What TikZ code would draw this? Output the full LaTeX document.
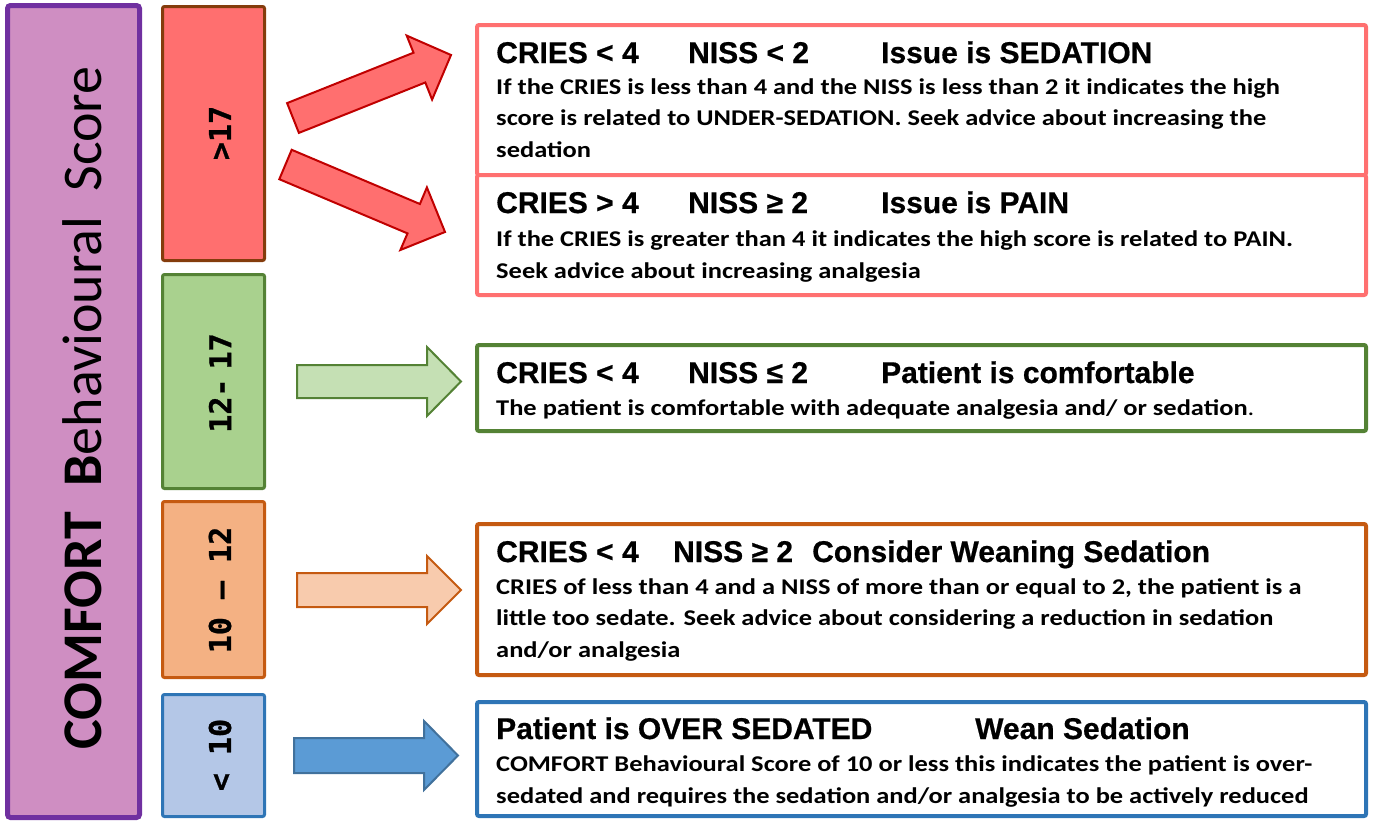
\documentclass[tikz,border=0pt]{standalone}
\usepackage{fontspec}
\setmainfont{Carlito}
\newfontfamily\bodyfont{Carlito}[FakeStretch=1.175]
\newfontfamily\hfont{Liberation Sans}[BoldFeatures={FakeBold=0.6}]
\newfontfamily\mfont{DejaVu Sans Mono}[BoldFeatures={FakeBold=0.8}]
\definecolor{purF}{HTML}{CF8EC2}
\definecolor{purD}{HTML}{7030A0}
\definecolor{redF}{HTML}{FF6F6F}
\definecolor{redD}{HTML}{843C0C}
\definecolor{redA}{HTML}{C00000}
\definecolor{redB}{HTML}{FF7070}
\definecolor{grnF}{HTML}{A9D18E}
\definecolor{grnL}{HTML}{C5E0B4}
\definecolor{grnD}{HTML}{548235}
\definecolor{orgF}{HTML}{F4B183}
\definecolor{orgL}{HTML}{F8CBAD}
\definecolor{orgD}{HTML}{C55A11}
\definecolor{bluF}{HTML}{B4C7E7}
\definecolor{bluA}{HTML}{5B9BD5}
\definecolor{bluE}{HTML}{41719C}
\definecolor{bluD}{HTML}{2E75B6}
\begin{document}
\begin{tikzpicture}[x=1pt,y=-1pt,
  scorebox/.style={draw, line width=3pt, rounded corners=2pt, inner sep=0pt, minimum width=102pt},
  infobox/.style={draw, line width=4pt, fill=white, rounded corners=2pt, inner sep=0pt, minimum width=889pt},
  scorelabel/.style={rotate=90, font=\mfont\bfseries\fontsize{30}{30}\selectfont, inner sep=0pt},
  head/.style={anchor=base west, inner sep=0pt, font=\hfont\bfseries\fontsize{30}{32}\selectfont},
  body/.style={anchor=base west, inner sep=0pt, align=left, font=\bodyfont\bfseries\fontsize{22.5}{31.5}\selectfont},
  blockarrow/.style={line width=2pt, line join=miter}
]
\useasboundingbox (0,0) rectangle (1378,822);
% main vertical box
\node[draw=purD, fill=purF, line width=5pt, rounded corners=3pt, inner sep=0pt,
  minimum width=132pt, minimum height=812pt] (main) at (73.5,411.5) {};
\node[rotate=90, inner sep=0pt, font=\fontsize{56}{56}\selectfont] (mainlbl) at (82,408)
  {{\bfseries COMFORT\ \ B}ehavioural\ \ Score};
% score boxes
\node[scorebox, draw=redD, fill=redF, minimum height=254pt] (s1) at (213.5,133.5) {};
\node[scorebox, draw=grnD, fill=grnF, minimum height=214pt] (s2) at (213.5,381.5) {};
\node[scorebox, draw=orgD, fill=orgF, minimum height=176pt] (s3) at (213.5,589.5) {};
\node[scorebox, draw=bluD, fill=bluF, minimum height=122pt] (s4) at (213.5,755.5) {};
\node[scorelabel] (l1) at (220,133) {>17};
\node[scorelabel] (l2) at (220,383) {12-\hspace{0.3em}17};
\node[scorelabel] (l3) at (220,590) {10 – 12};
\node[scorelabel] (l4) at (220,755) {< 10};
% info boxes
\node[infobox, draw=redB, minimum height=150pt] (i1) at (921.5,100) {};
\node[infobox, draw=redB, minimum height=120pt] (i2) at (921.5,235) {};
\node[infobox, draw=grnD, minimum height=86pt] (i3) at (921.5,388) {};
\node[infobox, draw=orgD, minimum height=151pt] (i4) at (921.5,599.5) {};
\node[infobox, draw=bluD, minimum height=114pt] (i5) at (921.5,759) {};
% arrows
\draw[blockarrow, draw=redA, fill=redF] (287.1,103.1) -- (413.5,52.7) -- (406.7,35.6) -- (451,55) -- (432.1,99.6) -- (425.3,82.5) -- (298.9,132.9) -- cycle;
\draw[blockarrow, draw=redA, fill=redF] (291.7,149.8) -- (419.9,204.0) -- (426.9,187.4) -- (445,232) -- (400.4,250.0) -- (407.5,233.4) -- (279.3,179.2) -- cycle;
\draw[blockarrow, draw=grnD, fill=grnL] (297,365) -- (427,365) -- (427,347) -- (461,381.5) -- (427,416) -- (427,398) -- (297,398) -- cycle;
\draw[blockarrow, draw=orgD, fill=orgL] (297,573) -- (427,573) -- (427,556) -- (461,590) -- (427,624) -- (427,607) -- (297,607) -- cycle;
\draw[blockarrow, draw=bluE, fill=bluA] (294,738) -- (424,738) -- (424,721) -- (458,755.5) -- (424,790) -- (424,773) -- (294,773) -- cycle;
% texts (multi-line body nodes: base anchor = last line baseline)
\node[head] (h1) at (496,63) {\makebox[192pt][l]{CRIES < 4}\makebox[193pt][l]{NISS < 2}Issue is SEDATION};
\node[body] (t1) at (496,157) {If the CRIES is less than 4 and the NISS is less than 2 it indicates the high\\score is related to UNDER-SEDATION. Seek advice about increasing the\\sedation};
\node[head] (h2) at (496,213) {\makebox[192pt][l]{CRIES > 4}\makebox[193pt][l]{NISS ≥ 2}Issue is PAIN};
\node[body] (t2) at (496,278) {If the CRIES is greater than 4 it indicates the high score is related to PAIN.\\Seek advice about increasing analgesia};
\node[head] (h3) at (496,383) {\makebox[192pt][l]{CRIES < 4}\makebox[193pt][l]{NISS ≤ 2}Patient is comfortable};
\node[body] (t3) at (496,415) {The patient is comfortable with adequate analgesia and/ or sedation{\mdseries .}};
\node[head] (h4) at (496,562) {\makebox[177pt][l]{CRIES < 4}\makebox[139pt][l]{NISS ≥ 2}Consider Weaning Sedation};
\node[body] (t4) at (496,657) {CRIES of less than 4 and a NISS of more than or equal to 2, the patient is a\\little too sedate. Seek advice about considering a reduction in sedation\\and/or analgesia};
\node[head] (h5) at (496,739) {\makebox[479pt][l]{Patient is OVER SEDATED}Wean Sedation};
\node[body] (t5) at (496,803) {COMFORT Behavioural Score of 10 or less this indicates the patient is over-\\sedated and requires the sedation and/or analgesia to be actively reduced};
\end{tikzpicture}
\end{document}
